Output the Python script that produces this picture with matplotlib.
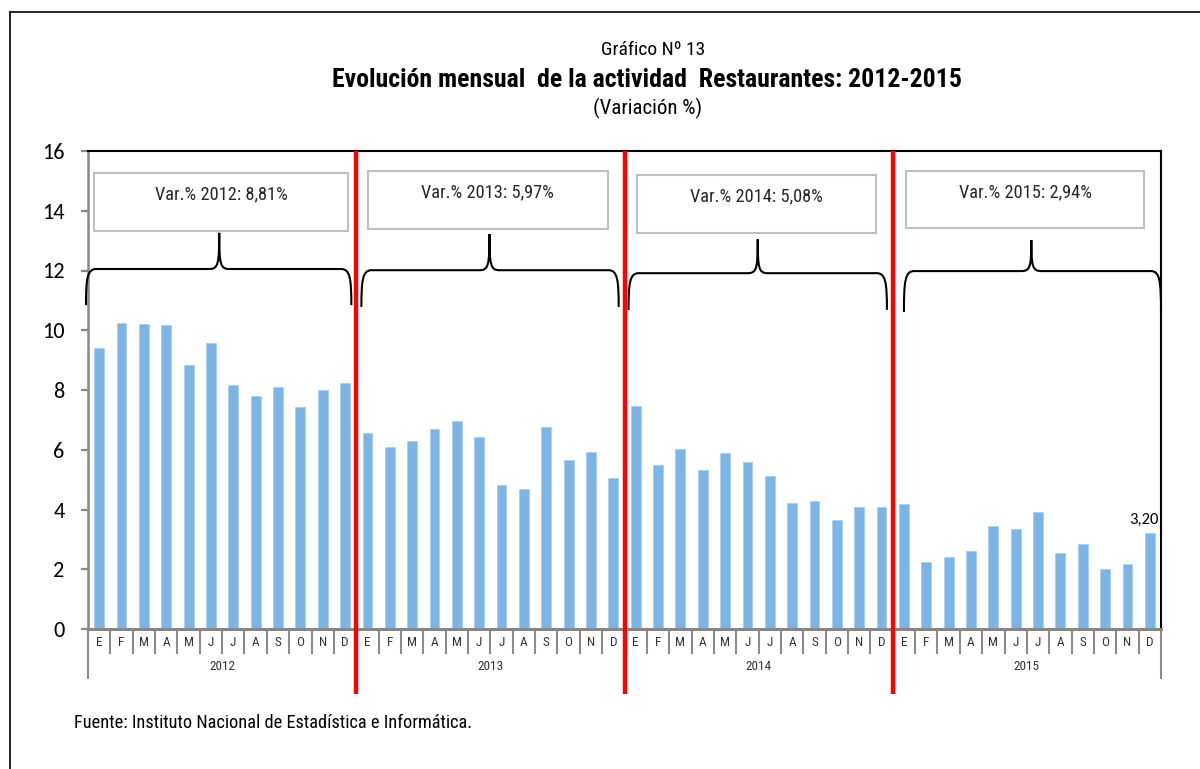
import matplotlib
matplotlib.use("Agg")
import matplotlib.pyplot as plt
from matplotlib import font_manager
from matplotlib.path import Path
from matplotlib.patches import PathPatch, Rectangle
from matplotlib.lines import Line2D
import matplotlib.transforms as mtransforms

# ---------------- data ----------------
years = ["2012", "2013", "2014", "2015"]
months = ["E", "F", "M", "A", "M", "J", "J", "A", "S", "O", "N", "D"]
values_2012 = [9.41, 10.25, 10.21, 10.16, 8.83, 9.56, 8.17, 7.81, 8.09, 7.44, 8.00, 8.24]
values_2013 = [6.56, 6.09, 6.28, 6.68, 6.96, 6.42, 4.81, 4.69, 6.75, 5.65, 5.93, 5.06]
values_2014 = [7.45, 5.49, 6.02, 5.31, 5.89, 5.59, 5.12, 4.21, 4.29, 3.64, 4.07, 4.09]
values_2015 = [4.19, 2.25, 2.41, 2.61, 3.45, 3.34, 3.91, 2.53, 2.84, 2.01, 2.19, 3.20]
annual_var = ["8,81", "5,97", "5,08", "2,94"]
last_label = "3,20"
yticks = [0, 2, 4, 6, 8, 10, 12, 14, 16]

values = values_2012 + values_2013 + values_2014 + values_2015
n = len(values)

# ---------------- fonts ----------------
names = {f.name for f in font_manager.fontManager.ttflist}

def pick(cands):
    for c in cands:
        if c in names:
            return c
    return "DejaVu Sans"

narrow = pick(["Liberation Sans Narrow", "Arial Narrow", "Roboto Condensed", "Archivo Narrow",
               "PT Sans Narrow", "Liberation Sans"])
cal = pick(["Carlito", "Calibri", "Lato", "Open Sans"])
NARROW = [narrow, "DejaVu Sans"]
CAL = [cal, "DejaVu Sans"]

# ---------------- figure ----------------
W, H = 1200, 769
fig = plt.figure(figsize=(W / 100, H / 100), dpi=100)
fig.patch.set_facecolor("white")

def fx(px):
    return px / W

def fy(py):
    return 1 - py / H

# outer frame (left + top visible)
fig.add_artist(Line2D([fx(9.5), fx(9.5)], [fy(12), 0], color="black", lw=1.2, transform=fig.transFigure))
fig.add_artist(Line2D([fx(9.5), 1], [fy(12), fy(12)], color="black", lw=1.2, transform=fig.transFigure))

ax_l, ax_r, ax_t, ax_b = 88, 1161, 151, 629
ax = fig.add_axes([fx(ax_l), fy(ax_b), fx(ax_r - ax_l), (ax_b - ax_t) / H])

x = list(range(n))
ax.bar(x, values, width=0.44, color="#7DB4E6", edgecolor="#A9CEF0", linewidth=0.6, zorder=2)

ax.set_xlim(-0.5, n - 0.5)
ax.set_ylim(0, 16)
ax.set_yticks(yticks)
ax.set_yticklabels([str(v) for v in yticks], fontfamily=CAL, fontsize=16, color="black")
ax.tick_params(axis="y", direction="out", length=5, width=1.6, color="#868686", pad=12)
ax.set_xticks([])

for s in ["top", "right"]:
    ax.spines[s].set_color("black")
    ax.spines[s].set_linewidth(1.5)
ax.spines["left"].set_color("#868686")
ax.spines["left"].set_linewidth(1.8)
ax.spines["bottom"].set_color("#868686")
ax.spines["bottom"].set_linewidth(2.2)

trans = mtransforms.blended_transform_factory(ax.transData, ax.transAxes)
axh = ax_b - ax_t

def ay(py):
    return (ax_b - py) / axh

# category axis: month separators, labels, year labels
for i in range(n + 1):
    xb = i - 0.5
    long_tick = (i % 12 == 0)
    y_end = ay(678) if long_tick else ay(653)
    ax.add_line(Line2D([xb, xb], [0, y_end], color="#8C8C8C", lw=1.5, transform=trans, clip_on=False))
for i in range(n):
    ax.text(i, ay(643), months[i % 12], transform=trans, ha="center", va="center",
            fontfamily=NARROW, fontsize=9.5, color="#333333")
for k, yr in enumerate(years):
    ax.text(12 * k + 5.5, ay(667), yr, transform=trans, ha="center", va="center",
            fontfamily=NARROW, fontsize=9.5, color="#333333")

# red separators
for k in range(1, len(years)):
    ax.add_line(Line2D([12 * k - 0.5, 12 * k - 0.5], [ay(694), 1.0], color="#FF0000", lw=3.2,
                       transform=trans, clip_on=False, zorder=6, solid_capstyle="butt"))

# value label on last bar
ax.annotate(last_label, (n - 1, values[-1]), xytext=(-4, 5), textcoords="offset points",
            ha="center", va="bottom", fontfamily=CAL, fontsize=12, color="black")

# boxes with annual variation
box_x = [(-0.23, 11.14), (12.04, 22.74), (24.08, 34.74), (36.09, 46.75)]
box_y = [(13.32, 15.27), (13.39, 15.33), (13.25, 15.19), (13.42, 15.33)]
for k, yr in enumerate(years):
    x0, x1 = box_x[k]
    y0, y1 = box_y[k]
    ax.add_patch(Rectangle((x0, y0), x1 - x0, y1 - y0, facecolor="white", edgecolor="#BFBFBF",
                           lw=1.5, zorder=4, clip_on=False))
    ax.text((x0 + x1) / 2, y1 - 0.37 * (y1 - y0), f"Var.% {yr}: {annual_var[k]}%",
            ha="center", va="center", fontfamily=NARROW, fontsize=13.2, color="#262626", zorder=5)

# curly braces
brace_x = [(-0.59, 11.28, 5.37), (11.73, 23.24, 17.46), (23.68, 35.24, 29.46), (36.0, 47.5, 41.7)]
brace_y = [(10.84, 12.05, 13.26), (10.78, 12.01, 13.22), (10.68, 11.91, 13.05), (10.61, 11.98, 13.02)]

def brace_path(x0, x1, xm, yb, yh, yt):
    dx = 0.45
    dt = 0.45
    verts = [
        (x0, yb),
        (x0, yh - 0.35), (x0 + 0.05, yh), (x0 + dx, yh),
        (xm - dt, yh),
        (xm - 0.05, yh), (xm, yh + 0.15), (xm, yt),
        (xm, yh + 0.15), (xm + 0.05, yh), (xm + dt, yh),
        (x1 - dx, yh),
        (x1 - 0.05, yh), (x1, yh - 0.35), (x1, yb),
    ]
    codes = [Path.MOVETO,
             Path.CURVE4, Path.CURVE4, Path.CURVE4,
             Path.LINETO,
             Path.CURVE4, Path.CURVE4, Path.CURVE4,
             Path.CURVE4, Path.CURVE4, Path.CURVE4,
             Path.LINETO,
             Path.CURVE4, Path.CURVE4, Path.CURVE4]
    return Path(verts, codes)

for k in range(len(years)):
    x0, x1, xm = brace_x[k]
    yb, yh, yt = brace_y[k]
    ax.add_patch(PathPatch(brace_path(x0, x1, xm, yb, yh, yt), fill=False, edgecolor="black",
                           lw=1.5, zorder=5, clip_on=False))

# titles
fig.text(fx(653), fy(50), "Gráfico Nº 13", ha="center", va="center", fontfamily=NARROW, fontsize=14)
fig.text(fx(647), fy(80), "Evolución mensual  de la actividad  Restaurantes: 2012-2015", ha="center",
         va="center", fontfamily=NARROW, fontsize=18.5, fontweight="bold")
fig.text(fx(648), fy(108), "(Variación %)", ha="center", va="center", fontfamily=NARROW, fontsize=15)
fig.text(fx(74), fy(723), "Fuente: Instituto Nacional de Estadística e Informática.", ha="left", va="center",
         fontfamily=NARROW, fontsize=13.2)

fig.savefig("out.png", dpi=100, facecolor="white")
